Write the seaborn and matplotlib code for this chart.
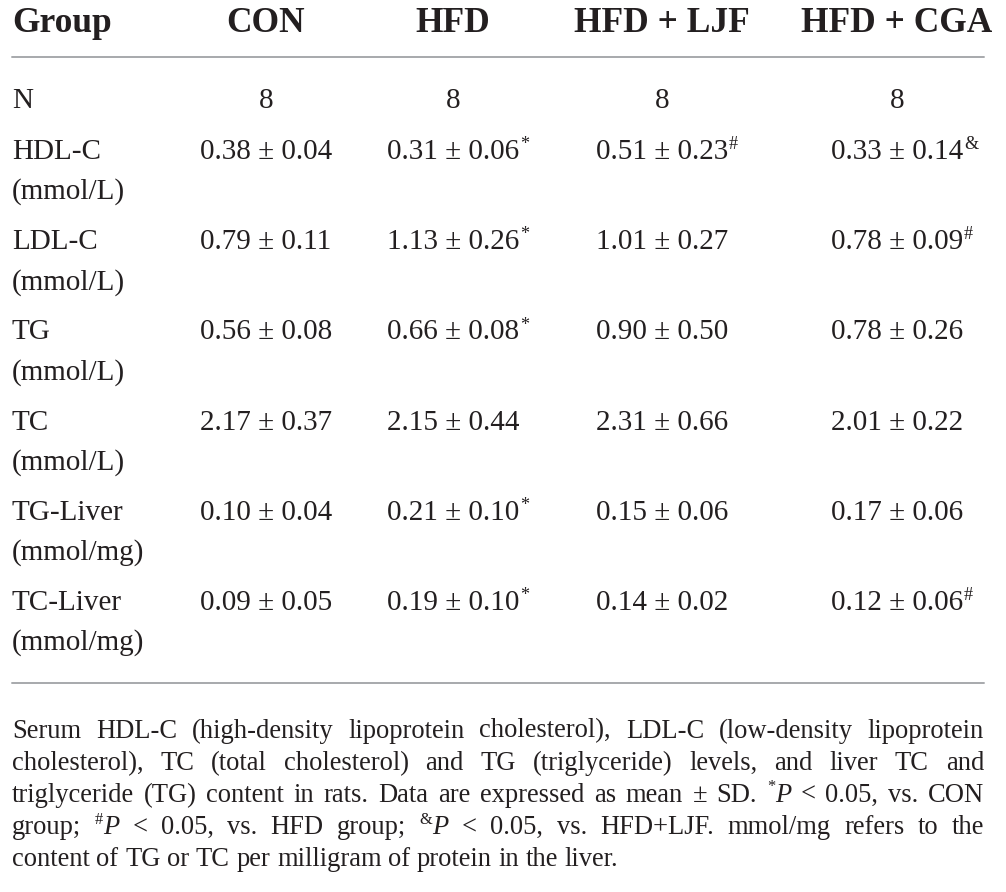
import re
import matplotlib
matplotlib.use("Agg")
import matplotlib.pyplot as plt
import seaborn as sns

# table content
groups = ["CON", "HFD", "HFD + LJF", "HFD + CGA"]
n_per_group = ["8", "8", "8", "8"]
row_labels = ["HDL-C", "LDL-C", "TG", "TC", "TG-Liver", "TC-Liver"]
row_units = ["(mmol/L)", "(mmol/L)", "(mmol/L)", "(mmol/L)", "(mmol/mg)", "(mmol/mg)"]
means = [
    ["0.38", "0.31", "0.51", "0.33"],
    ["0.79", "1.13", "1.01", "0.78"],
    ["0.56", "0.66", "0.90", "0.78"],
    ["2.17", "2.15", "2.31", "2.01"],
    ["0.10", "0.21", "0.15", "0.17"],
    ["0.09", "0.19", "0.14", "0.12"],
]
sds = [
    ["0.04", "0.06", "0.23", "0.14"],
    ["0.11", "0.26", "0.27", "0.09"],
    ["0.08", "0.08", "0.50", "0.26"],
    ["0.37", "0.44", "0.66", "0.22"],
    ["0.04", "0.10", "0.06", "0.06"],
    ["0.05", "0.10", "0.02", "0.06"],
]
marks = [
    ["", "*", "#", "&"],
    ["", "*", "", "#"],
    ["", "*", "", ""],
    ["", "", "", ""],
    ["", "*", "", ""],
    ["", "*", "", "#"],
]
# footnote lines: {x} = superscript, _x_ = italic
footnote = [
    "Serum HDL-C (high-density lipoprotein cholesterol), LDL-C (low-density lipoprotein",
    "cholesterol), TC (total cholesterol) and TG (triglyceride) levels, and liver TC and",
    "triglyceride (TG) content in rats. Data are expressed as mean \u00b1 SD. {*}_P_ < 0.05, vs. CON",
    "group; {#}_P_ < 0.05, vs. HFD group; {&}_P_ < 0.05, vs. HFD+LJF. mmol/mg refers to the",
    "content of TG or TC per milligram of protein in the liver.",
]

# layout (pixels)
W, H = 1006, 892
left, right = 12, 984
col_x = [266, 453, 662, 897]
header_y = 23
top_rule, bottom_rule = 57, 683
n_y = 101
label_y0, label_step, unit_dy = 152, 90.2, 40
foot_y0, foot_step = 731, 32.2

sns.set_theme(style="white")
plt.rcParams["font.family"] = ["Liberation Serif", "DejaVu Serif"]
ink = "#231f20"

fig = plt.figure(figsize=(W / 100, H / 100), dpi=100)
ax = fig.add_axes([0, 0, 1, 1])
ax.set_xlim(0, W)
ax.set_ylim(H, 0)
ax.axis("off")
sns.despine(ax=ax, left=True, bottom=True)
renderer = fig.canvas.get_renderer()

head_fs, body_fs, foot_fs = 25.5, 21, 19.1

# header
ax.text(left, header_y, "Group", fontsize=head_fs, fontweight="bold", color=ink, ha="left", va="center")
for x, g in zip(col_x, groups):
    ax.text(x, header_y, g, fontsize=head_fs, fontweight="bold", color=ink, ha="center", va="center")

ax.plot([left, right], [top_rule, top_rule], color="#a7a9ac", lw=1.4)
ax.plot([left, right], [bottom_rule, bottom_rule], color="#a7a9ac", lw=1.4)

# N row
ax.text(left, n_y, "N", fontsize=body_fs, color=ink, ha="left", va="center")
for x, n in zip(col_x, n_per_group):
    ax.text(x, n_y, n, fontsize=body_fs, color=ink, ha="center", va="center")

# value rows
for i, (lab, unit) in enumerate(zip(row_labels, row_units)):
    y = label_y0 + i * label_step
    ax.text(left, y, lab, fontsize=body_fs, color=ink, ha="left", va="center")
    ax.text(left, y + unit_dy, unit, fontsize=body_fs, color=ink, ha="left", va="center")
    for j, x in enumerate(col_x):
        t = ax.text(x, y, f"{means[i][j]} \u00b1 {sds[i][j]}", fontsize=body_fs,
                    color=ink, ha="center", va="center")
        if marks[i][j]:
            ax.annotate(marks[i][j], xy=(1, 1), xycoords=t, xytext=(0.5, 2),
                        textcoords="offset points", fontsize=body_fs * 0.62,
                        color=ink, ha="left", va="top")


def word_segments(word):
    segs = []
    for sup, ital, plain in re.findall(r"\{(.+?)\}|_(.+?)_|([^{_]+)", word):
        if sup:
            segs.append((sup, "sup"))
        elif ital:
            segs.append((ital, "it"))
        else:
            segs.append((plain, "rm"))
    return segs


def seg_kw(style):
    if style == "sup":
        return dict(fontsize=foot_fs * 0.62)
    if style == "it":
        return dict(fontsize=foot_fs, fontstyle="italic")
    return dict(fontsize=foot_fs)


def seg_width(text, style):
    t = ax.text(0, 0, text, **seg_kw(style))
    w = t.get_window_extent(renderer).width
    t.remove()
    return w


space_w = seg_width("a a", "rm") - 2 * seg_width("a", "rm")

for k, line in enumerate(footnote):
    y = foot_y0 + k * foot_step
    words = [word_segments(w) for w in line.split(" ")]
    widths = [sum(seg_width(s, st) for s, st in w) for w in words]
    last = k == len(footnote) - 1
    gap = space_w if last else (right - left - sum(widths)) / (len(words) - 1)
    x = left
    for w, ww in zip(words, widths):
        xx = x
        for s, st in w:
            yy = y - foot_fs * 0.42 if st == "sup" else y
            ax.text(xx, yy, s, color=ink, ha="left", va="center", **seg_kw(st))
            xx += seg_width(s, st)
        x += ww + gap

fig.savefig("out.png", dpi=100)
